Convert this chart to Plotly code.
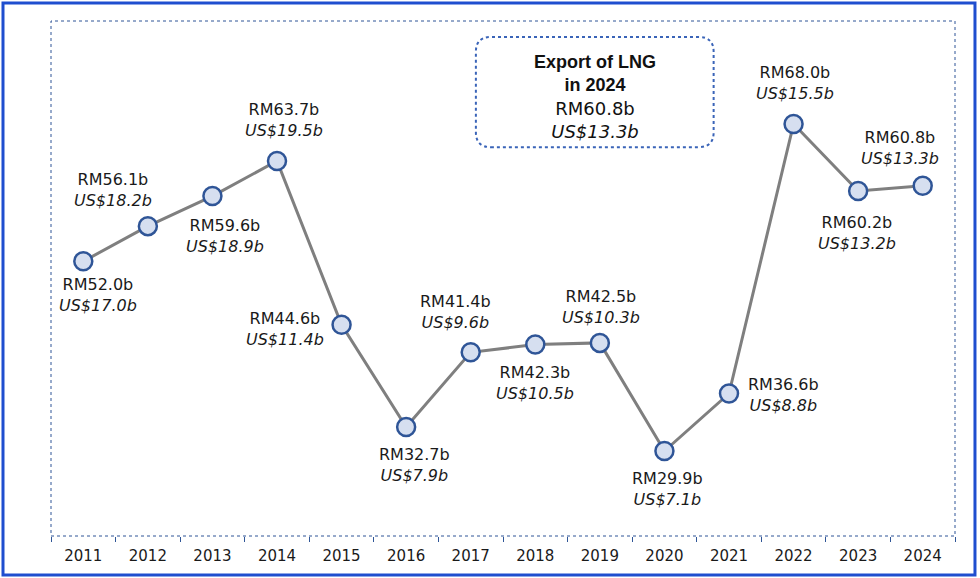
import plotly.graph_objects as go

years = ["2011", "2012", "2013", "2014", "2015", "2016", "2017", "2018", "2019", "2020", "2021", "2022", "2023", "2024"]
rm_values = [52.0, 56.1, 59.6, 63.7, 44.6, 32.7, 41.4, 42.3, 42.5, 29.9, 36.6, 68.0, 60.2, 60.8]
usd_values = [17.0, 18.2, 18.9, 19.5, 11.4, 7.9, 9.6, 10.5, 10.3, 7.1, 8.8, 15.5, 13.2, 13.3]

# label offsets (pixels): (xshift, yshift)
label_offsets = [(15, -34), (-35, 36), (13, -40), (7, 41), (-57, -4), (8, -38), (-15, 40),
                 (0, -38), (1, 36), (3, -38), (54, -1), (1, 41), (-1, -42), (-23, 38)]

FONT = "DejaVu Sans"
xpos = list(range(len(years)))

fig = go.Figure()
fig.add_trace(go.Scatter(
    x=xpos, y=rm_values, mode="lines+markers",
    line=dict(color="#7f7f7f", width=3),
    marker=dict(size=18, color="#d6dff0", line=dict(color="#2f5597", width=2.5)),
    hoverinfo="skip", showlegend=False,
))

annotations = []
for xi, rm, us, (dx, dy) in zip(xpos, rm_values, usd_values, label_offsets):
    annotations.append(dict(
        x=xi, y=rm, xref="x", yref="y",
        text=f"RM{rm:.1f}b<br><i>US${us:.1f}b</i>",
        showarrow=False, xshift=dx, yshift=dy,
        font=dict(family=FONT, size=16, color="#1a1a1a"),
        align="center", xanchor="center", yanchor="middle",
    ))

annotations.append(dict(
    x=0.602, y=0.852, xref="paper", yref="paper", showarrow=False,
    text=("<span style='font-family:Liberation Sans'><b>Export of LNG</b></span><br>"
          "<span style='font-family:Liberation Sans'><b>in 2024</b></span><br>"
          f"RM{rm_values[-1]:.1f}b<br><i>US${usd_values[-1]:.1f}b</i>"),
    font=dict(family=FONT, size=18, color="#111111"),
    align="center", xanchor="center", yanchor="middle",
))

# rounded dotted box
x0, x1, y0, y1 = 0.470, 0.733, 0.755, 0.969
rx, ry = 0.0166, 0.029
path = (f"M {x0+rx},{y0} L {x1-rx},{y0} Q {x1},{y0} {x1},{y0+ry} "
        f"L {x1},{y1-ry} Q {x1},{y1} {x1-rx},{y1} L {x0+rx},{y1} "
        f"Q {x0},{y1} {x0},{y1-ry} L {x0},{y0+ry} Q {x0},{y0} {x0+rx},{y0} Z")

shapes = [
    dict(type="path", path=path, xref="paper", yref="paper",
         line=dict(color="#3a64b8", width=2, dash="dot")),
    dict(type="rect", xref="paper", yref="paper", x0=0, x1=1, y0=0, y1=1,
         line=dict(color="#2f5597", width=1, dash="dot")),
    dict(type="rect", xref="paper", yref="paper", x0=-0.0531, x1=1.0221, y0=-0.0757, y1=1.035,
         line=dict(color="#1f4ecf", width=3)),
]

fig.update_layout(
    width=980, height=578, autosize=False,
    margin=dict(l=51, r=25, t=21, b=42, autoexpand=False),
    paper_bgcolor="white", plot_bgcolor="white",
    annotations=annotations, shapes=shapes,
    xaxis=dict(
        range=[-0.5, len(years) - 0.5], autorange=False,
        tickmode="array", tickvals=xpos, ticktext=years, ticks="",
        ticklabelstandoff=9,
        showgrid=False, zeroline=False, showline=False, automargin=False,
        tickfont=dict(family=FONT, size=15, color="#1a1a1a"),
        minor=dict(tickmode="array", tickvals=[i - 0.5 for i in range(len(years) + 1)],
                   ticks="outside", ticklen=5, tickcolor="#2f5597", tickwidth=1, showgrid=False),
        fixedrange=True,
    ),
    yaxis=dict(range=[20, 80], autorange=False, visible=False, fixedrange=True),
)

fig.write_html("out.html", config={"displayModeBar": False},
               post_script="document.body.style.margin='0px';")
